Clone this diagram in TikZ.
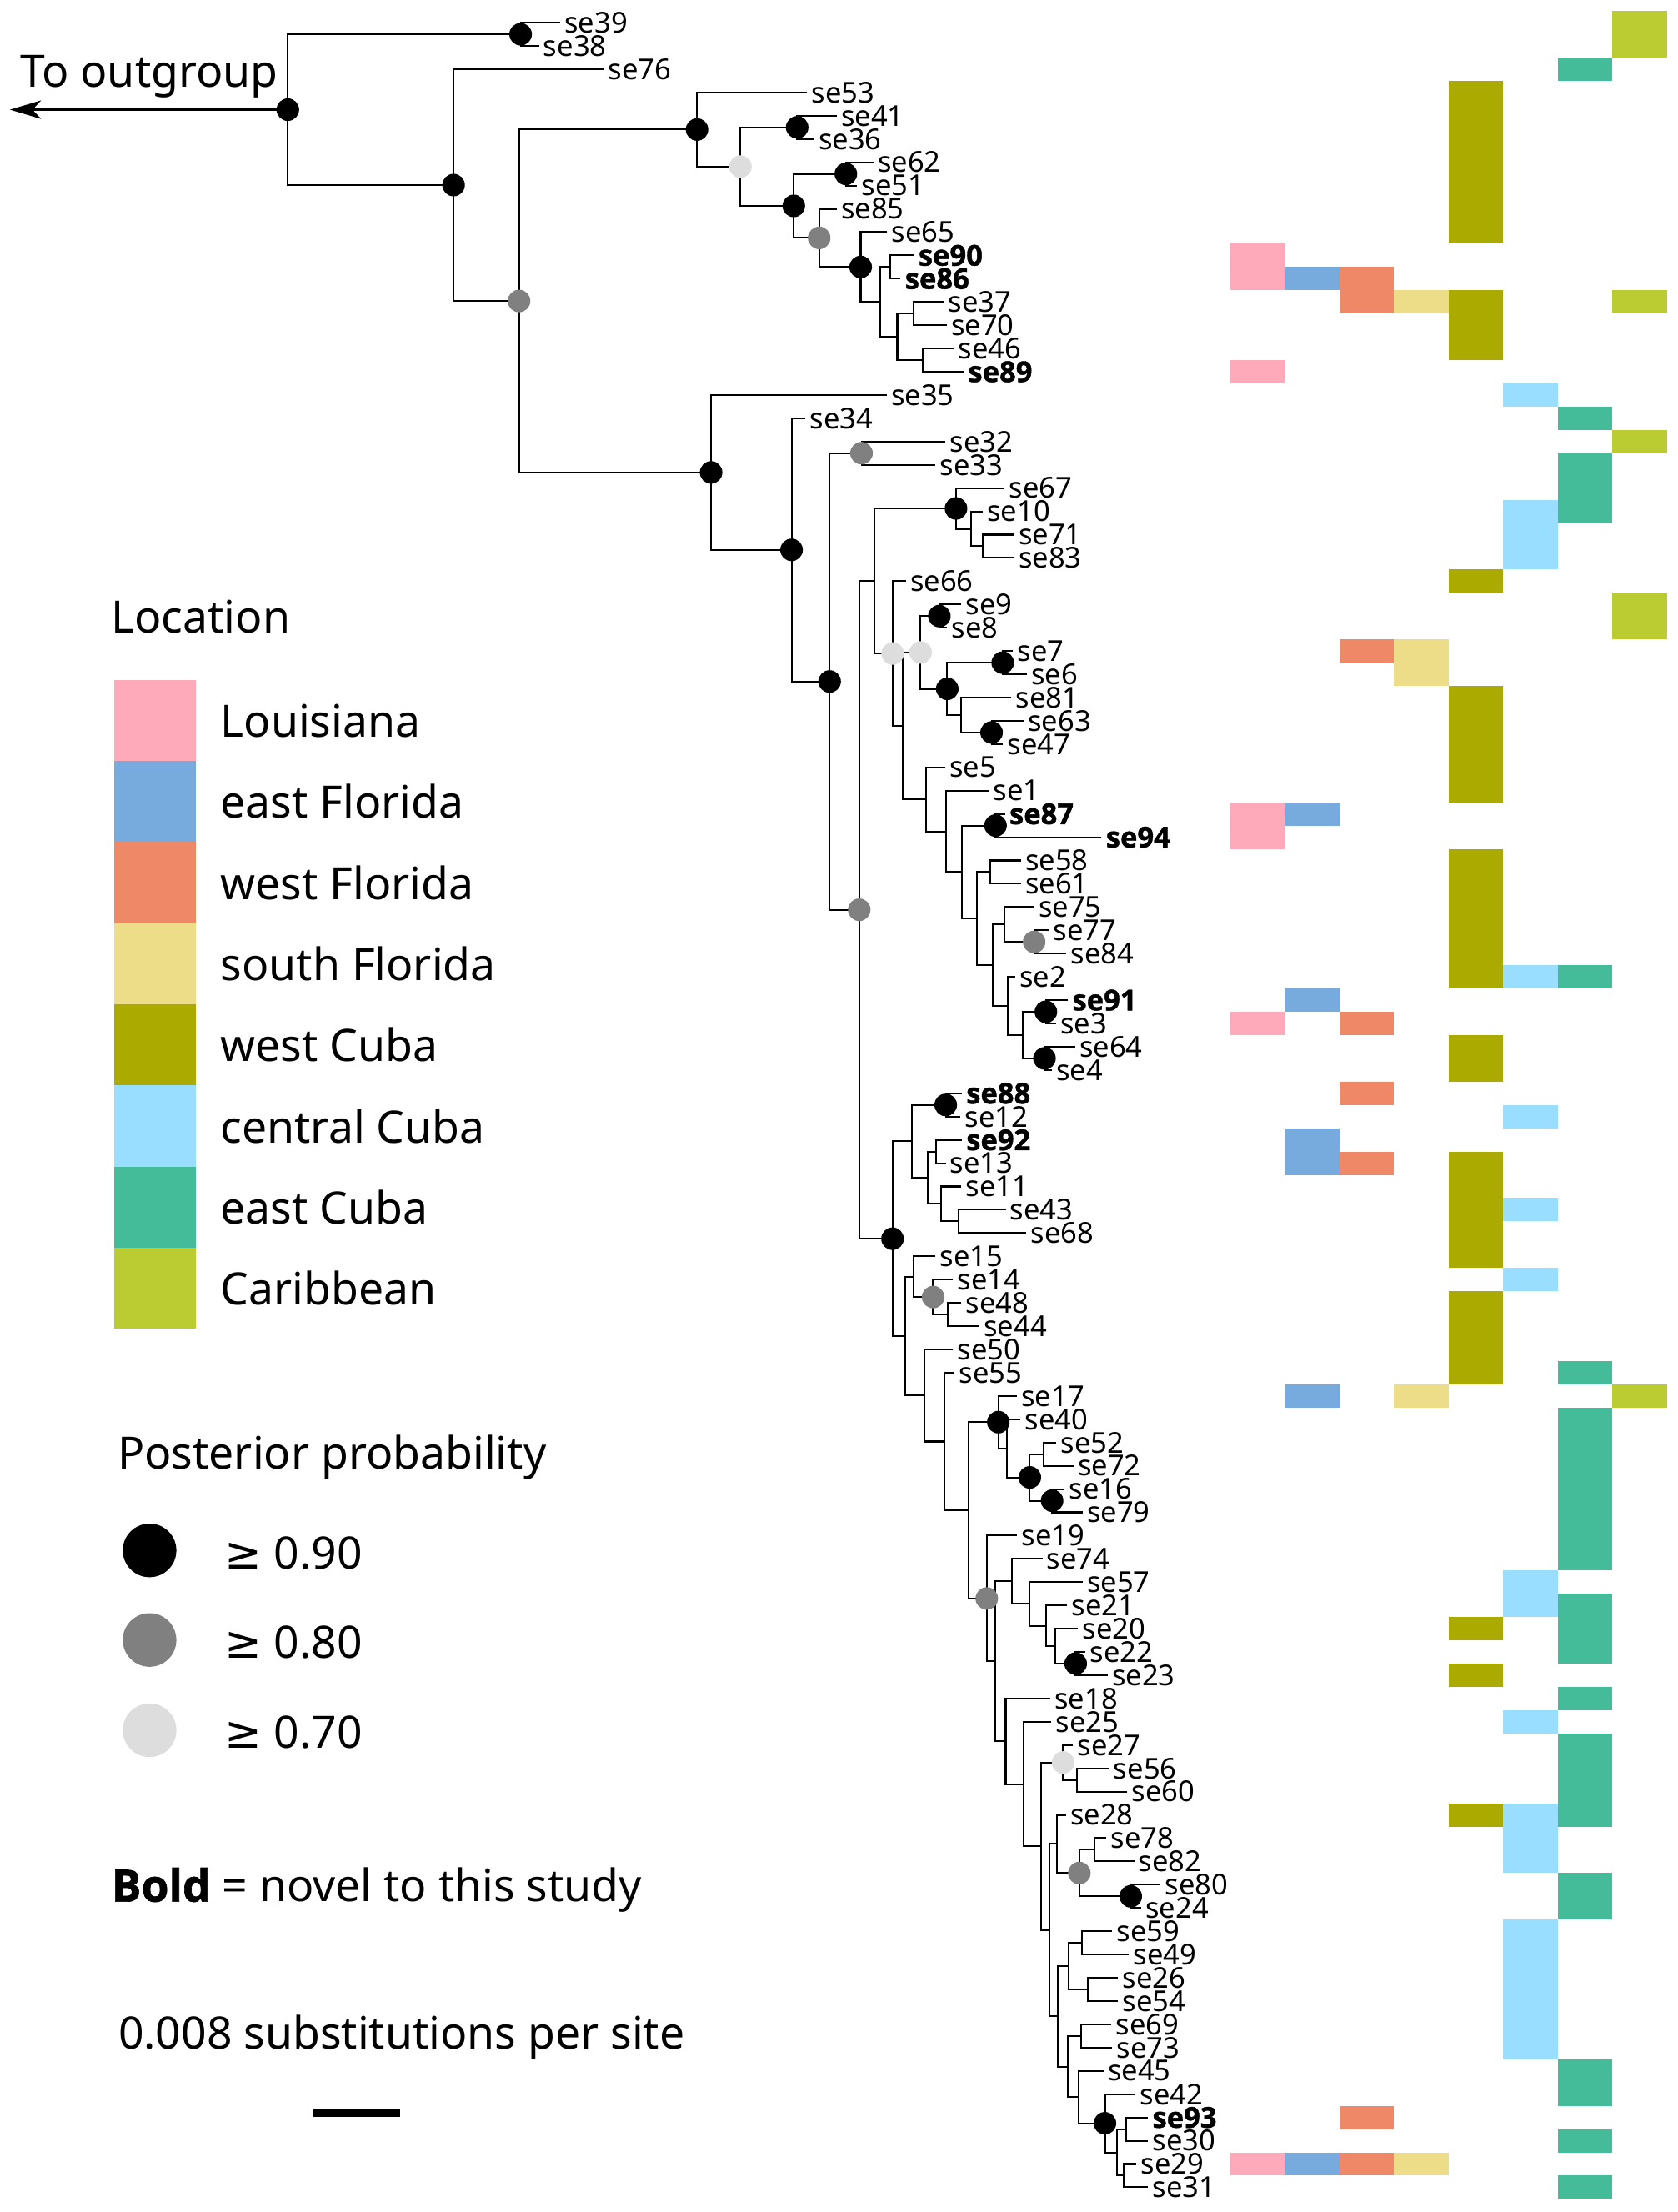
\documentclass[tikz,border=0pt]{standalone}
\usepackage{fontspec}
\setmainfont{Noto Sans}
\newfontfamily\novf{Open Sans}[BoldFeatures={FakeBold=1.2}]
\newfontfamily\symf{DejaVu Sans}
\usetikzlibrary{calc,arrows.meta}
\definecolor{col0}{HTML}{FFAABB}
\definecolor{col1}{HTML}{77AADD}
\definecolor{col2}{HTML}{EE8866}
\definecolor{col3}{HTML}{EEDD88}
\definecolor{col4}{HTML}{AAAA00}
\definecolor{col5}{HTML}{99DDFF}
\definecolor{col6}{HTML}{44BB99}
\definecolor{col7}{HTML}{BBCC33}
\definecolor{ppgrey}{HTML}{808080}
\definecolor{pplight}{HTML}{DDDDDD}
\tikzset{
  br/.style={line width=0.6pt,black},
  tiplab/.style={anchor=west,inner xsep=1.4pt,inner ysep=0pt,font=\fontsize{10.2}{12}\selectfont},
  nov/.style={font=\fontsize{10.2}{12}\selectfont\novf\bfseries},
  leg/.style={anchor=base west,inner sep=0pt,font=\fontsize{15.8}{19}\selectfont},
}
\newcommand\tipn[4]{\node[tiplab,#4] (#1) at (#3,{16+16.5*(#2)}) {#1};}
\newcommand\inode[4]{%
  \path let \p1=(#3), \p2=(#4), \p3=(#2,0) in coordinate (#1) at (\x3,{0.5*(\y1+\y2)});
  \draw[br] (#3) -| (#1) |- (#4);}
\begin{document}
\begin{tikzpicture}[x=0.5pt,y=-0.5pt]
\fill[white] (0,0) rectangle (1189,1568);
\useasboundingbox (0,0) rectangle (1189,1568);
% ---------- tips ----------
\tipn{se39}{0}{397}{}
\tipn{se38}{1}{382}{}
\tipn{se76}{2}{428}{}
\tipn{se53}{3}{572}{}
\tipn{se41}{4}{593}{}
\tipn{se36}{5}{577}{}
\tipn{se62}{6}{619}{}
\tipn{se51}{7}{607.5}{}
\tipn{se85}{8}{593}{}
\tipn{se65}{9}{628.8}{}
\tipn{se90}{10}{647.8}{nov}
\tipn{se86}{11}{638.3}{nov}
\tipn{se37}{12}{669}{}
\tipn{se70}{13}{671}{}
\tipn{se46}{14}{676}{}
\tipn{se89}{15}{683}{nov}
\tipn{se35}{16}{628.5}{}
\tipn{se34}{17}{571}{}
\tipn{se32}{18}{670}{}
\tipn{se33}{19}{663}{}
\tipn{se67}{20}{712}{}
\tipn{se10}{21}{696.5}{}
\tipn{se71}{22}{718.8}{}
\tipn{se83}{23}{718.8}{}
\tipn{se66}{24}{642}{}
\tipn{se9}{25}{681.3}{}
\tipn{se8}{26}{671.4}{}
\tipn{se7}{27}{718}{}
\tipn{se6}{28}{727.8}{}
\tipn{se81}{29}{716.8}{}
\tipn{se63}{30}{725.4}{}
\tipn{se47}{31}{711}{}
\tipn{se5}{32}{669.8}{}
\tipn{se1}{33}{700.9}{}
\tipn{se87}{34}{712.3}{nov}
\tipn{se94}{35}{780.7}{nov}
\tipn{se58}{36}{723.6}{}
\tipn{se61}{37}{723.6}{}
\tipn{se75}{38}{733}{}
\tipn{se77}{39}{743.4}{}
\tipn{se84}{40}{755.8}{}
\tipn{se2}{41}{719.5}{}
\tipn{se91}{42}{756.9}{nov}
\tipn{se3}{43}{748.5}{}
\tipn{se64}{44}{762}{}
\tipn{se4}{45}{745.4}{}
\tipn{se88}{46}{681.7}{nov}
\tipn{se12}{47}{680.7}{}
\tipn{se92}{48}{681.7}{nov}
\tipn{se13}{49}{670.3}{}
\tipn{se11}{50}{681.3}{}
\tipn{se43}{51}{712.8}{}
\tipn{se68}{52}{727.3}{}
\tipn{se15}{53}{663.1}{}
\tipn{se14}{54}{675.5}{}
\tipn{se48}{55}{681.3}{}
\tipn{se44}{56}{694.2}{}
\tipn{se50}{57}{675.5}{}
\tipn{se55}{58}{676.5}{}
\tipn{se17}{59}{720.7}{}
\tipn{se40}{60}{723.2}{}
\tipn{se52}{61}{748.6}{}
\tipn{se72}{62}{760.8}{}
\tipn{se16}{63}{754.5}{}
\tipn{se79}{64}{767.3}{}
\tipn{se19}{65}{721}{}
\tipn{se74}{66}{738.8}{}
\tipn{se57}{67}{767.3}{}
\tipn{se21}{68}{756.5}{}
\tipn{se20}{69}{764}{}
\tipn{se22}{70}{769.3}{}
\tipn{se23}{71}{785}{}
\tipn{se18}{72}{744.3}{}
\tipn{se25}{73}{745.1}{}
\tipn{se27}{74}{760.4}{}
\tipn{se56}{75}{786.1}{}
\tipn{se60}{76}{798.9}{}
\tipn{se28}{77}{755.5}{}
\tipn{se78}{78}{784.1}{}
\tipn{se82}{79}{803.8}{}
\tipn{se80}{80}{822.5}{}
\tipn{se24}{81}{808.7}{}
\tipn{se59}{82}{788.4}{}
\tipn{se49}{83}{800.2}{}
\tipn{se26}{84}{792.4}{}
\tipn{se54}{85}{792.4}{}
\tipn{se69}{86}{787.6}{}
\tipn{se73}{87}{788.4}{}
\tipn{se45}{88}{782.1}{}
\tipn{se42}{89}{804.8}{}
\tipn{se93}{90}{813.6}{nov}
\tipn{se30}{91}{813.6}{}
\tipn{se29}{92}{805.4}{}
\tipn{se31}{93}{813.6}{}
% ---------- internal nodes ----------
\inode{n3938}{369}{se39}{se38}
\inode{nE}{647.8}{se37}{se70}
\inode{nF}{654}{se46}{se89}
\inode{nD}{636}{nE}{nF}
\inode{nC}{631}{se90}{se86}
\inode{nB}{624}{nC}{nD}
\inode{nA7}{610}{se65}{nB}
\inode{nA6}{580.6}{se85}{nA7}
\inode{n6251}{599.5}{se62}{se51}
\inode{nA5}{562.6}{n6251}{nA6}
\inode{n4136}{565}{se41}{se36}
\inode{nA4}{524.8}{n4136}{nA5}
\inode{nA3}{494}{se53}{nA4}
\inode{n3233}{610.6}{se32}{se33}
\inode{O}{696.7}{se71}{se83}
\inode{N}{688}{se10}{O}
\inode{M}{677.6}{se67}{N}
\inode{n98}{665.8}{se9}{se8}
\inode{n76}{710.7}{se7}{se6}
\inode{n6347}{702.8}{se63}{se47}
\inode{U}{681.3}{se81}{n6347}
\inode{T}{671.4}{n76}{U}
\inode{Q}{652.5}{n98}{T}
\inode{n8794}{705.6}{se87}{se94}
\inode{n5861}{701.9}{se58}{se61}
\inode{n7784}{733}{se77}{se84}
\inode{Z}{711.9}{se75}{n7784}
\inode{n913}{741.3}{se91}{se3}
\inode{n644}{740.3}{se64}{se4}
\inode{AB}{725.1}{n913}{n644}
\inode{AA}{714}{se2}{AB}
\inode{Y}{703.4}{Z}{AA}
\inode{X}{692.6}{n5861}{Y}
\inode{W}{681.6}{n8794}{X}
\inode{V}{670.4}{se1}{W}
\inode{S}{656.3}{se5}{V}
\inode{R}{639.6}{Q}{S}
\inode{P}{632.7}{se66}{R}
\inode{L}{620}{M}{P}
\inode{n8812}{670.3}{se88}{se12}
\inode{n9213}{663.5}{se92}{se13}
\inode{AF}{679.6}{se43}{se68}
\inode{AE}{667.2}{se11}{AF}
\inode{AD}{657.4}{n9213}{AE}
\inode{AC}{646.5}{n8812}{AD}
\inode{AI}{671.8}{se48}{se44}
\inode{AHb}{661.4}{se14}{AI}
\inode{AH}{647.5}{se15}{AHb}
\inode{AP}{739.4}{se52}{se72}
\inode{n1679}{745.7}{se16}{se79}
\inode{AO}{729.9}{AP}{n1679}
\inode{AN}{713.6}{se40}{AO}
\inode{AM}{707.6}{se17}{AN}
\inode{n2223}{762.4}{se22}{se23}
\inode{AV}{748.2}{se20}{n2223}
\inode{AU}{741.7}{se21}{AV}
\inode{AT}{729.5}{se57}{AU}
\inode{AS}{717.5}{se74}{AT}
\inode{BA}{763.4}{se56}{se60}
\inode{AZ}{753.5}{se27}{BA}
\inode{BE}{775.6}{se78}{se82}
\inode{BF}{801.4}{se80}{se24}
\inode{BD}{765}{BE}{BF}
\inode{BC}{749}{se28}{BD}
\inode{n5949}{767}{se59}{se49}
\inode{n2654}{770.9}{se26}{se54}
\inode{BH}{757.5}{n5949}{n2654}
\inode{n6973}{766.4}{se69}{se73}
\inode{n9330}{797.9}{se93}{se30}
\inode{n2931}{796.3}{se29}{se31}
\inode{BL}{791.6}{n9330}{n2931}
\inode{BK}{783.1}{se42}{BL}
\inode{BJ}{764.4}{se45}{BK}
\inode{BI}{756.9}{n6973}{BJ}
\inode{BG}{749.6}{BH}{BI}
\inode{BB}{743.7}{BC}{BG}
\inode{AY}{737.8}{AZ}{BB}
\inode{AX}{725.4}{se25}{AY}
\inode{AW}{712.8}{se18}{AX}
\inode{AR}{705.3}{AS}{AW}
\inode{AQ}{699.4}{se19}{AR}
\inode{AL}{686.6}{AM}{AQ}
\inode{AK}{669.3}{se55}{AL}
\inode{AJ}{655.1}{se50}{AK}
\inode{AG}{641.7}{AH}{AJ}
\inode{K}{632.6}{AC}{AG}
\inode{J}{609}{L}{K}
\inode{I}{588}{n3233}{J}
\inode{H}{561}{se34}{I}
\inode{G}{504}{se35}{H}
\inode{nA2}{367.9}{nA3}{G}
\inode{nA1}{321.5}{se76}{nA2}
\inode{root}{204}{n3938}{nA1}
% outgroup arrow
\coordinate (outg) at (7,0 |- root);
\draw[line width=0.9pt,-{Stealth[length=11pt,width=6.5pt,inset=3pt]}] (root) -- (outg);
\node[leg] (outT) at (14,61.5) {To outgroup};
% ---------- support circles ----------
\foreach \n in {root,n3938,nA1,nA3,n4136,nA5,n6251,nA7,G,H,I,M,n98,T,n76,n6347,n8794,n913,n644,K,n8812,AM,AO,n1679,n2223,BF,BK}
  \fill[black] (\n) circle (4pt);
\foreach \n in {nA2,nA6,n3233,J,n7784,AHb,AQ,BD}
  \fill[ppgrey] (\n) circle (4pt);
\foreach \n in {nA4,P,Q,AZ}
  \fill[pplight] (\n) circle (4pt);
% ---------- location matrix ----------
\foreach \c/\a/\b in {0/10/11,0/15/15,0/34/35,0/43/43,0/92/92,
  1/11/11,1/34/34,1/42/42,1/48/49,1/59/59,1/92/92,
  2/11/12,2/27/27,2/43/43,2/46/46,2/49/49,2/90/90,2/92/92,
  3/12/12,3/27/28,3/59/59,3/92/92,
  4/3/9,4/12/14,4/24/24,4/29/33,4/36/41,4/44/45,4/49/53,4/55/58,4/69/69,4/71/71,4/77/77,
  5/16/16,5/21/23,5/41/41,5/47/47,5/51/51,5/54/54,5/67/68,5/73/73,5/77/79,5/82/87,
  6/2/2,6/17/17,6/19/21,6/41/41,6/58/58,6/60/66,6/68/70,6/72/72,6/74/77,6/80/81,6/88/89,6/91/91,6/93/93,
  7/0/1,7/12/12,7/18/18,7/25/26,7/59/59}
  \fill[col\c] ({872+38.69*\c},{7.75+16.5*\a}) rectangle ({872+38.69*(\c+1)},{24.25+16.5*\b});
% ---------- legend ----------
\node[leg] (locT) at (78.5,449) {Location};
\foreach \i/\t in {0/Louisiana,1/east Florida,2/west Florida,3/south Florida,4/west Cuba,5/central Cuba,6/east Cuba,7/Caribbean}{
  \fill[col\i] (81,{482+57.5*\i}) rectangle (139,{539.5+57.5*\i});
  \node[leg] (lg\i) at (156,{522.5+57.5*\i}) {\t};
}
\node[leg] (ppT) at (83,1041.5) {Posterior probability};
\fill[black] (106,1099) circle (9.5pt);
\fill[ppgrey] (106,1162.5) circle (9.5pt);
\fill[pplight] (106,1226.5) circle (9.5pt);
\node[leg] (pp90) at (159,1112) {{\symf ≥} 0.90};
\node[leg] (pp80) at (159,1175.5) {{\symf ≥} 0.80};
\node[leg] (pp70) at (159,1239) {{\symf ≥} 0.70};
\node[leg] (boldT) at (78.5,1348) {{\novf\bfseries Bold} = novel to this study};
\node[leg] (scT) at (83.5,1452.5) {0.008 substitutions per site};
\coordinate (sb1) at (221.7,1497.6);
\coordinate (sb2) at (283.3,1497.6);
\draw[line width=2.8pt] (sb1) -- (sb2);
\end{tikzpicture}
\end{document}
